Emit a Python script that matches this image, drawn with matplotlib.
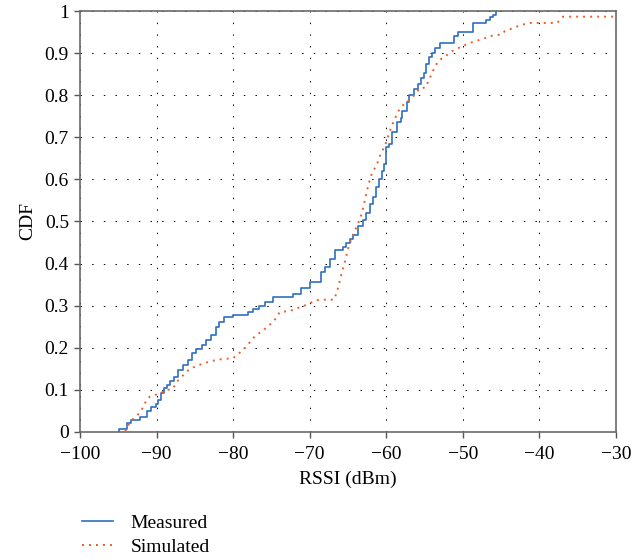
import numpy as np
import matplotlib
matplotlib.use("Agg")
import matplotlib.pyplot as plt
from matplotlib.ticker import FuncFormatter

# measured CDF (RSSI where the step occurs, level after it)
measured_rssi = [-94.9, -94.9, -93.8, -93.3, -92.2, -91.3, -90.7, -90.1, -89.8, -89.4,
                 -89.0, -88.7, -88.3, -87.7, -87.2, -86.6, -85.9, -85.4, -84.8, -84.1,
                 -83.5, -82.9, -82.3, -81.8, -81.2, -80.0, -78.1, -77.4, -76.6, -75.9,
                 -74.8, -72.2, -71.1, -70.0, -68.5, -68.0, -67.4, -66.7, -65.6, -65.2,
                 -64.8, -64.4, -63.7, -63.0, -62.6, -62.1, -61.7, -61.3, -60.9, -60.6,
                 -60.3, -60.0, -59.6, -59.3, -58.6, -58.1, -57.9, -57.3, -57.0, -56.4,
                 -55.8, -55.5, -55.1, -54.8, -54.4, -54.0, -53.6, -53.0, -51.1, -50.6,
                 -48.7, -47.0, -46.4, -46.0, -45.7]
measured_cdf = [0.0, 0.007, 0.02, 0.029, 0.035, 0.049, 0.06, 0.067, 0.076, 0.092,
                0.104, 0.11, 0.12, 0.131, 0.147, 0.159, 0.171, 0.188, 0.196, 0.206,
                0.218, 0.23, 0.25, 0.261, 0.272, 0.277, 0.285, 0.293, 0.30, 0.309,
                0.32, 0.328, 0.342, 0.356, 0.38, 0.392, 0.411, 0.433, 0.44, 0.448,
                0.458, 0.468, 0.49, 0.503, 0.519, 0.542, 0.558, 0.582, 0.601, 0.621,
                0.637, 0.676, 0.684, 0.712, 0.736, 0.747, 0.763, 0.783, 0.80, 0.815,
                0.826, 0.84, 0.854, 0.874, 0.891, 0.901, 0.913, 0.925, 0.94, 0.95,
                0.972, 0.98, 0.986, 0.992, 1.0]

# simulated CDF
simulated_rssi = [-94.1, -93.8, -93.1, -92.2, -91.8, -91.3, -90.85, -90.1, -89.4, -88.8,
                  -88.1, -87.7, -87.3, -86.7, -86.1, -85.5, -84.4, -83.1, -81.8, -80.0,
                  -79.2, -78.3, -77.6, -77.0, -76.3, -75.5, -74.6, -73.9, -72.6, -71.8,
                  -70.9, -70.0, -68.8, -66.8, -66.3, -65.9, -65.4, -65.0, -64.4, -63.7,
                  -63.4, -63.0, -62.7, -62.3, -61.9, -61.2, -60.8, -60.1, -59.6, -59.0,
                  -58.4, -57.7, -56.9, -56.2, -55.6, -54.9, -54.3, -53.8, -53.2, -52.3,
                  -51.4, -50.3, -49.5, -48.4, -47.5, -46.4, -44.9, -44.5, -43.4, -42.5,
                  -41.2, -37.7, -36.9, -30.3]
simulated_cdf = [0.0, 0.013, 0.03, 0.045, 0.057, 0.076, 0.084, 0.088, 0.092, 0.1,
                 0.1, 0.108, 0.12, 0.131, 0.143, 0.151, 0.159, 0.167, 0.172, 0.175,
                 0.187, 0.202, 0.218, 0.23, 0.238, 0.25, 0.265, 0.285, 0.287, 0.293,
                 0.298, 0.306, 0.314, 0.314, 0.342, 0.372, 0.405, 0.435, 0.466, 0.495,
                 0.507, 0.534, 0.558, 0.59, 0.613, 0.637, 0.657, 0.684, 0.712, 0.74,
                 0.763, 0.779, 0.79, 0.803, 0.818, 0.818, 0.842, 0.862, 0.882, 0.893,
                 0.905, 0.915, 0.921, 0.929, 0.933, 0.941, 0.945, 0.953, 0.96, 0.967,
                 0.972, 0.972, 0.987, 0.987]

xticks = np.arange(-100, -29, 10)
yticks = np.round(np.arange(0, 1.01, 0.1), 1)

plt.rcParams['font.family'] = ['Liberation Serif', 'DejaVu Serif']

fig = plt.figure(figsize=(6.4, 5.6), dpi=100)
ax = fig.add_axes([0.125, 0.229, 0.8375, 0.751])

ax.step(measured_rssi, measured_cdf, where='post', color='#2f6fbe', lw=1.2,
        label='Measured', zorder=3)
ax.plot(simulated_rssi, simulated_cdf, color='#e5602a', lw=1.4,
        linestyle=(0, (1, 2.6)), label='Simulated', zorder=3)

ax.set_xlim(-100, -30)
ax.set_ylim(0, 1)
ax.set_xticks(xticks)
ax.set_yticks(yticks)
ax.yaxis.set_major_formatter(FuncFormatter(lambda v, p: '%g' % v))
ax.grid(True, color='black', lw=0.7, linestyle=(0, (1.5, 10.5)))

for s in ax.spines.values():
    s.set_color('#6a6a6a')
    s.set_linewidth(1.2)
ax.tick_params(direction='out', length=4, width=1, color='#555555', labelsize=14)
ax.tick_params(axis='x', pad=6)
ax.tick_params(axis='y', pad=4)

ax.set_xlabel('RSSI (dBm)', fontsize=14, labelpad=6)
ax.set_ylabel('CDF', fontsize=14, labelpad=6)

fig.legend(loc='upper left', bbox_to_anchor=(0.128, 1 - 514 / 560), frameon=False,
           fontsize=14, handlelength=1.6, handletextpad=0.9, labelspacing=0.36,
           borderpad=0, borderaxespad=0)

fig.savefig('out.png', dpi=100)
